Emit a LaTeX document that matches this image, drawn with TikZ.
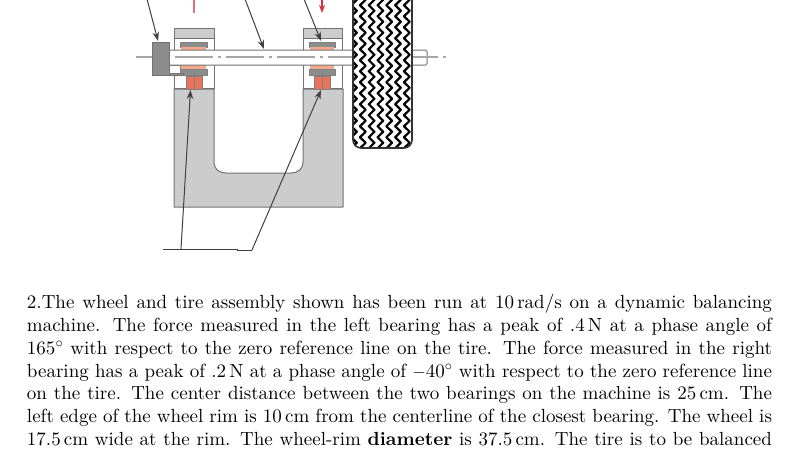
\documentclass[tikz,border=0pt]{standalone}
\usepackage{fontspec}
\setmainfont{lmroman10-regular}[Extension=.otf,BoldFont=lmroman10-bold,ItalicFont=lmroman10-italic]
\usetikzlibrary{arrows.meta,decorations.pathmorphing}
\definecolor{salm}{HTML}{F2A98C}
\definecolor{redb}{HTML}{E8735A}
\definecolor{redt}{HTML}{E0707A}
\definecolor{redar}{HTML}{D9303F}
\tikzset{
  part/.style={draw=black!55,line width=1pt},
  thin part/.style={draw=black!50,line width=0.8pt},
  lead/.style={draw=black!75,line width=1pt,-{Stealth[length=9pt,width=6.5pt]}},
  leadline/.style={draw=black!75,line width=1pt},
  cline/.style={draw=black!35,line width=2pt},
  cdash/.style={cline,dash pattern=on 38pt off 5pt on 3pt off 5pt},
  tread/.style={draw=black,line width=2.2pt,line join=round,decorate,decoration={zigzag,segment length=11pt,amplitude=2.8pt}},
  txt/.style={inner sep=0pt,outer sep=0pt,anchor=base west}
}
\newcommand{\tline}[1]{\hbox to 745pt{#1}}
\newcommand{\bearing}[4]{% left x, right x, red-left, red-right
  \path[part,fill=white] (#1-6,28) rectangle (#2+7,88);
  \path[part,fill=black!20] (#1-6,28) rectangle (#2+7,38);
  \path[thin part,fill=black!45] (#1,42) rectangle (#2,47);
  \path[fill=salm] (#1+1,47) rectangle (#2-1,50);
  \path[fill=salm] (#1+1,65) rectangle (#2-1,69);
  \path[thin part,fill=black!45] (#1,69) rectangle (#2,75);
  \path[thin part,fill=redb] (#3,76) rectangle (#4,89);
}
\begin{document}
\begin{tikzpicture}[x=1pt,y=-1pt,font=\fontsize{19}{22.8}\selectfont]
\useasboundingbox (0,0) rectangle (800,450);
% frame
\bearing{180}{207}{186}{202}
\bearing{309}{335}{314}{330}
\path[part,fill=black!20,line join=round]
 (174,89) -- (214,89) -- (214,162) .. controls (214,169) and (219,173) .. (226,173) -- (291,173)
 .. controls (298,173) and (303,169) .. (303,162) -- (303,89) -- (343,89) -- (343,207) -- (174,207) -- cycle;
\path[thin part,fill=redb] (186,76) rectangle (202,89);
\path[thin part,fill=redb] (314,76) rectangle (330,89);
\draw[thin part] (194,72) -- (194,89);
\draw[thin part] (322,72) -- (322,89);
% shaft
\path[part,fill=white,rounded corners=1.5pt] (165,50) -- (427,50) -- (427,65) -- (165,65) -- cycle;
\draw[cdash] (175,57.3) -- (412,57.3);
\draw[cdash,dash phase=12pt] (412,57.3) -- (449,57.3);
\draw[cline] (136,57.3) -- (152,57.3);
% left box and link
\path[thin part,fill=white] (169,65) rectangle (180,73);
\path[part,fill=black!45] (152,73) rectangle (183,75.5);
\path[part,fill=black!45] (152,42) rectangle (169,75);
% tire
\begin{scope}
\clip[rounded corners=8pt] (353,-20) rectangle (412,148);
\fill[white] (353,-20) rectangle (412,148);
\foreach \c in {354,362.8,...,415}
  \draw[tread] (\c,-14) -- (\c,160);
\end{scope}
\draw[black!80,line width=1.6pt,rounded corners=8pt] (353,-20) rectangle (412,148);
% leaders
\coordinate (leadA) at (147,-1);
\coordinate (tipA) at (158,41);
\coordinate (leadB) at (245,-1);
\coordinate (tipB) at (264,49);
\coordinate (leadC) at (304,-1);
\coordinate (tipC) at (321,41);
\draw[lead] (leadA) -- (tipA);
\draw[lead] (leadB) -- (tipB);
\draw[lead] (leadC) -- (tipC);
\draw[redt,line width=1.2pt] (194,-1) -- (194,13);
\draw[redar,line width=1.2pt,-{Stealth[length=8pt,width=6pt]}] (322,-1) -- (322,13);
% lower leaders
\coordinate (baseL) at (163,249);
\coordinate (baseM) at (237,249);
\coordinate (baseE) at (252,250);
\coordinate (forkA) at (181,249);
\coordinate (tipD) at (190.5,90);
\coordinate (tipE) at (321,90);
\draw[leadline] (baseL) -- (baseM);
\draw[leadline] (baseM) -- (237,250) -- (baseE);
\draw[lead] (forkA) -- (tipD);
\draw[lead] (baseE) -- (tipE);
% text
\node[txt] (l1) at (27,308.3) {\tline{2.The wheel and tire assembly shown has been run at 10\,rad/s on a dynamic balancing}};
\node[txt] (l2) at (27,331) {\tline{machine.  The force measured in the left bearing has a peak of .4\,N at a phase angle of}};
\node[txt] (l3) at (27,354) {\tline{165$^\circ$ with respect to the zero reference line on the tire.  The force measured in the right}};
\node[txt] (l4) at (27,377) {\tline{bearing has a peak of .2\,N at a phase angle of $-$40$^\circ$ with respect to the zero reference line}};
\node[txt] (l5) at (27,399.7) {\tline{on the tire.  The center distance between the two bearings on the machine is 25\,cm.  The}};
\node[txt] (l6) at (27,422.3) {\tline{left edge of the wheel rim is 10\,cm from the centerline of the closest bearing.  The wheel is}};
\node[txt] (l7) at (27,445) {\tline{17.5\,cm wide at the rim.  The wheel-rim \textbf{diameter} is 37.5\,cm.  The tire is to be balanced}};
\end{tikzpicture}
\end{document}
